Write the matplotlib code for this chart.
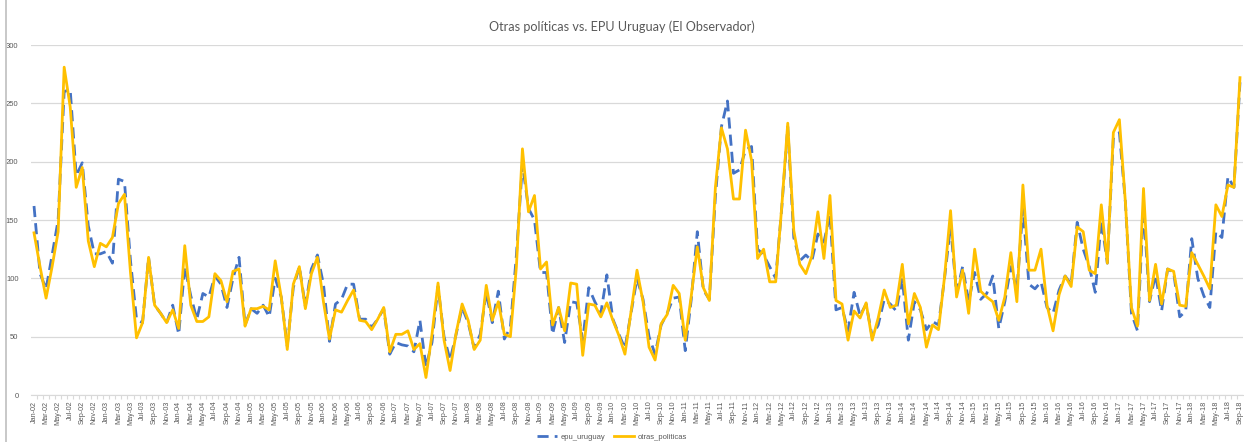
import matplotlib
matplotlib.use("Agg")
import matplotlib.pyplot as plt
import pandas as pd

# monthly series, Jan-02 .. Sep-18
months = pd.date_range("2002-01-01", periods=201, freq="MS").strftime("%b-%y").tolist()

otras_politicas = [
    139, 110, 83, 110, 140, 281, 247, 178, 195, 132, 110, 130,
    127, 135, 164, 172, 105, 49, 62, 118, 77, 70, 62, 73,
    57, 128, 77, 63, 63, 67, 104, 98, 80, 106, 108, 59,
    74, 74, 76, 73, 115, 84, 39, 95, 110, 74, 104, 118,
    80, 48, 73, 71, 81, 90, 64, 63, 56, 65, 75, 37,
    52, 52, 55, 39, 44, 15, 52, 96, 47, 21, 53, 78,
    64, 39, 47, 94, 64, 80, 52, 50, 110, 211, 157, 171,
    108, 114, 60, 75, 55, 96, 95, 34, 78, 77, 67, 79,
    64, 51, 35, 71, 107, 80, 41, 30, 61, 69, 94, 87,
    47, 85, 127, 92, 81, 178, 229, 211, 168, 168, 227, 201,
    117, 125, 97, 97, 161, 233, 141, 112, 104, 119, 157, 117,
    171, 81, 78, 47, 72, 66, 79, 47, 66, 90, 75, 77,
    112, 61, 87, 75, 41, 60, 56, 101, 158, 84, 107, 70,
    125, 89, 84, 80, 64, 84, 122, 80, 180, 107, 107, 125,
    77, 55, 86, 102, 93, 144, 140, 107, 104, 163, 113, 225,
    236, 165, 75, 59, 177, 81, 112, 78, 108, 106, 77, 76,
    122, 112, 102, 91, 163, 153, 180, 178, 272,
]

epu_uruguay = [
    162, 104, 91, 120, 150, 260, 262, 188, 199, 145, 121, 121,
    123, 113, 185, 183, 115, 65, 62, 118, 77, 70, 62, 77,
    52, 110, 85, 65, 87, 84, 102, 95, 75, 100, 118, 60,
    74, 70, 77, 67, 100, 84, 42, 92, 110, 76, 108, 120,
    95, 46, 78, 82, 95, 95, 65, 65, 58, 65, 74, 35,
    45, 43, 42, 37, 64, 24, 45, 93, 50, 30, 52, 75,
    62, 40, 52, 88, 62, 89, 48, 58, 120, 198, 160, 150,
    105, 105, 52, 75, 45, 80, 79, 47, 92, 80, 70, 103,
    65, 52, 40, 70, 100, 82, 50, 35, 60, 70, 83, 84,
    38, 82, 140, 90, 82, 170, 230, 252, 190, 193, 210, 213,
    125, 120, 110, 100, 160, 230, 135, 115, 120, 115, 138, 131,
    155, 73, 75, 55, 88, 68, 78, 50, 60, 82, 78, 72,
    100, 47, 80, 73, 56, 63, 60, 100, 145, 87, 110, 80,
    105, 82, 87, 102, 57, 80, 110, 90, 160, 95, 91, 97,
    75, 70, 90, 102, 95, 148, 125, 110, 88, 150, 113, 220,
    225, 165, 70, 55, 160, 80, 103, 72, 108, 105, 67, 72,
    134, 100, 85, 75, 140, 135, 187, 178, 268,
]

W, H = 1244, 442
fig = plt.figure(figsize=(W / 100, H / 100), dpi=100)
ax = fig.add_axes([31 / W, 47 / H, 1212 / W, 350 / H])

x = list(range(len(months)))
ax.plot(x, epu_uruguay, color="#4472C4", lw=2.0, dashes=(4, 2.2), label="epu_uruguay")
ax.plot(x, otras_politicas, color="#FFC000", lw=2.0, label="otras_politicas")

ax.set_xlim(-0.5, len(months) - 0.5)
ax.set_ylim(0, 300)
ax.set_yticks(range(0, 301, 50))
ax.grid(axis="y", color="#d9d9d9", lw=0.9)
ax.set_axisbelow(True)

ax.set_xticks(x[::2])
ax.set_xticklabels(months[::2], rotation=90, fontsize=5.2, color="#595959", family="Liberation Sans")
ax.set_xticks([i + 0.5 for i in x[:-1]], minor=True)
ax.tick_params(axis="x", which="major", length=0, pad=4)
ax.tick_params(axis="x", which="minor", length=3, color="#d9d9d9", width=0.8)
ax.tick_params(axis="y", length=0, labelsize=5.5, labelcolor="#595959", pad=9)
for lab in ax.get_yticklabels():
    lab.set_family("Liberation Sans")

for s in ["top", "right", "left"]:
    ax.spines[s].set_visible(False)
ax.spines["bottom"].set_color("#d9d9d9")

fig.text(0.5, 1 - 27 / H, "Otras políticas vs. EPU Uruguay (El Observador)",
         ha="center", va="center", fontsize=9.1, color="#595959", family="Lato")

fig.legend(loc="center", bbox_to_anchor=(612 / W, 1 - 437 / H), ncol=2, frameon=False,
           prop={"family": "Liberation Sans", "size": 5.5}, labelcolor="#595959",
           handlelength=2.6, columnspacing=1.2, handletextpad=0.5)

fig.add_artist(plt.Line2D([6 / W, 6 / W], [0, 1], color="#bfbfbf", lw=1.2))

fig.savefig("out.png", dpi=100)
